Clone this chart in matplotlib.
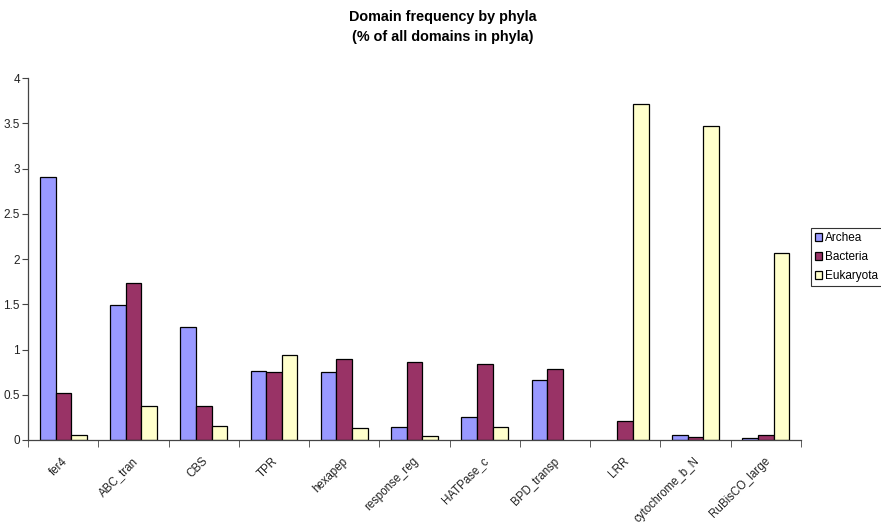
import numpy as np
import matplotlib.pyplot as plt
import matplotlib.transforms as mtrans

# Values (% of all domains in phyla)
domains  = ["fer4", "ABC_tran", "CBS", "TPR", "hexapep", "response_reg",
            "HATPase_c", "BPD_transp", "LRR", "cytochrome_b_N", "RuBisCO_large"]
archea    = [2.91, 1.49, 1.25, 0.76, 0.75, 0.14, 0.25, 0.66, 0.00, 0.05, 0.02]
bacteria  = [0.52, 1.74, 0.38, 0.75, 0.89, 0.86, 0.84, 0.79, 0.21, 0.03, 0.05]
eukaryota = [0.05, 0.38, 0.15, 0.94, 0.13, 0.04, 0.14, 0.00, 3.72, 3.47, 2.07]
yticks    = [0, 0.5, 1, 1.5, 2, 2.5, 3, 3.5, 4]

plt.rcParams["font.family"] = ["Liberation Sans", "DejaVu Sans"]

fig = plt.figure(figsize=(8.81, 5.25), dpi=100)
ax = fig.add_axes([0.032, 0.162, 0.877, 0.689])

x = np.arange(len(domains))
w = 1 / 4.5
series = [("Archea", archea, "#9999FF"),
          ("Bacteria", bacteria, "#993366"),
          ("Eukaryota", eukaryota, "#FFFFCC")]
for i, (name, vals, col) in enumerate(series):
    # zero values draw nothing in the original (no flat outline)
    h = np.array(vals, dtype=float)
    h[h == 0] = np.nan
    ax.bar(x + (i - 1) * w, h, width=w, color=col, edgecolor="black",
           linewidth=0.9, label=name)

ax.set_xlim(-0.5, len(domains) - 0.5)
ax.set_ylim(0, 4)
ax.set_yticks(yticks)
ax.set_yticklabels([f"{v:g}" for v in yticks], fontsize=8.5, color="#222222")

# category labels centred, ticks on category boundaries
ax.set_xticks(x)
ax.set_xticklabels(domains, rotation=45, ha="right", rotation_mode="anchor",
                   fontsize=8.3, color="#222222")
ax.tick_params(axis="x", length=0, pad=11)
shift = mtrans.ScaledTranslation(-0.02, 0, fig.dpi_scale_trans)
for lbl in ax.get_xticklabels():
    lbl.set_transform(lbl.get_transform() + shift)
ax.set_xticks(np.arange(-0.5, len(domains) + 0.5, 1), minor=True)
ax.tick_params(axis="x", which="minor", length=5, direction="out", color="#444444")
ax.tick_params(axis="y", length=4, direction="out", color="#444444", pad=2)

for s in ["top", "right"]:
    ax.spines[s].set_visible(False)
for s in ["left", "bottom"]:
    ax.spines[s].set_color("#444444")
    ax.spines[s].set_linewidth(0.9)

fig.text(0.503, 0.981, "Domain frequency by phyla\n(% of all domains in phyla)",
         ha="center", va="top", fontsize=10.4, fontweight="bold", linespacing=1.55)

leg = fig.legend(loc="upper left", bbox_to_anchor=(811 / 881, 1 - 228 / 525),
                 fontsize=8.5, frameon=True, fancybox=False, edgecolor="black",
                 handlelength=0.6, handleheight=0.6, handletextpad=0.25,
                 borderpad=0.35, labelspacing=0.6, borderaxespad=0)
leg.get_frame().set_linewidth(0.8)

fig.savefig("out.png", dpi=100)
